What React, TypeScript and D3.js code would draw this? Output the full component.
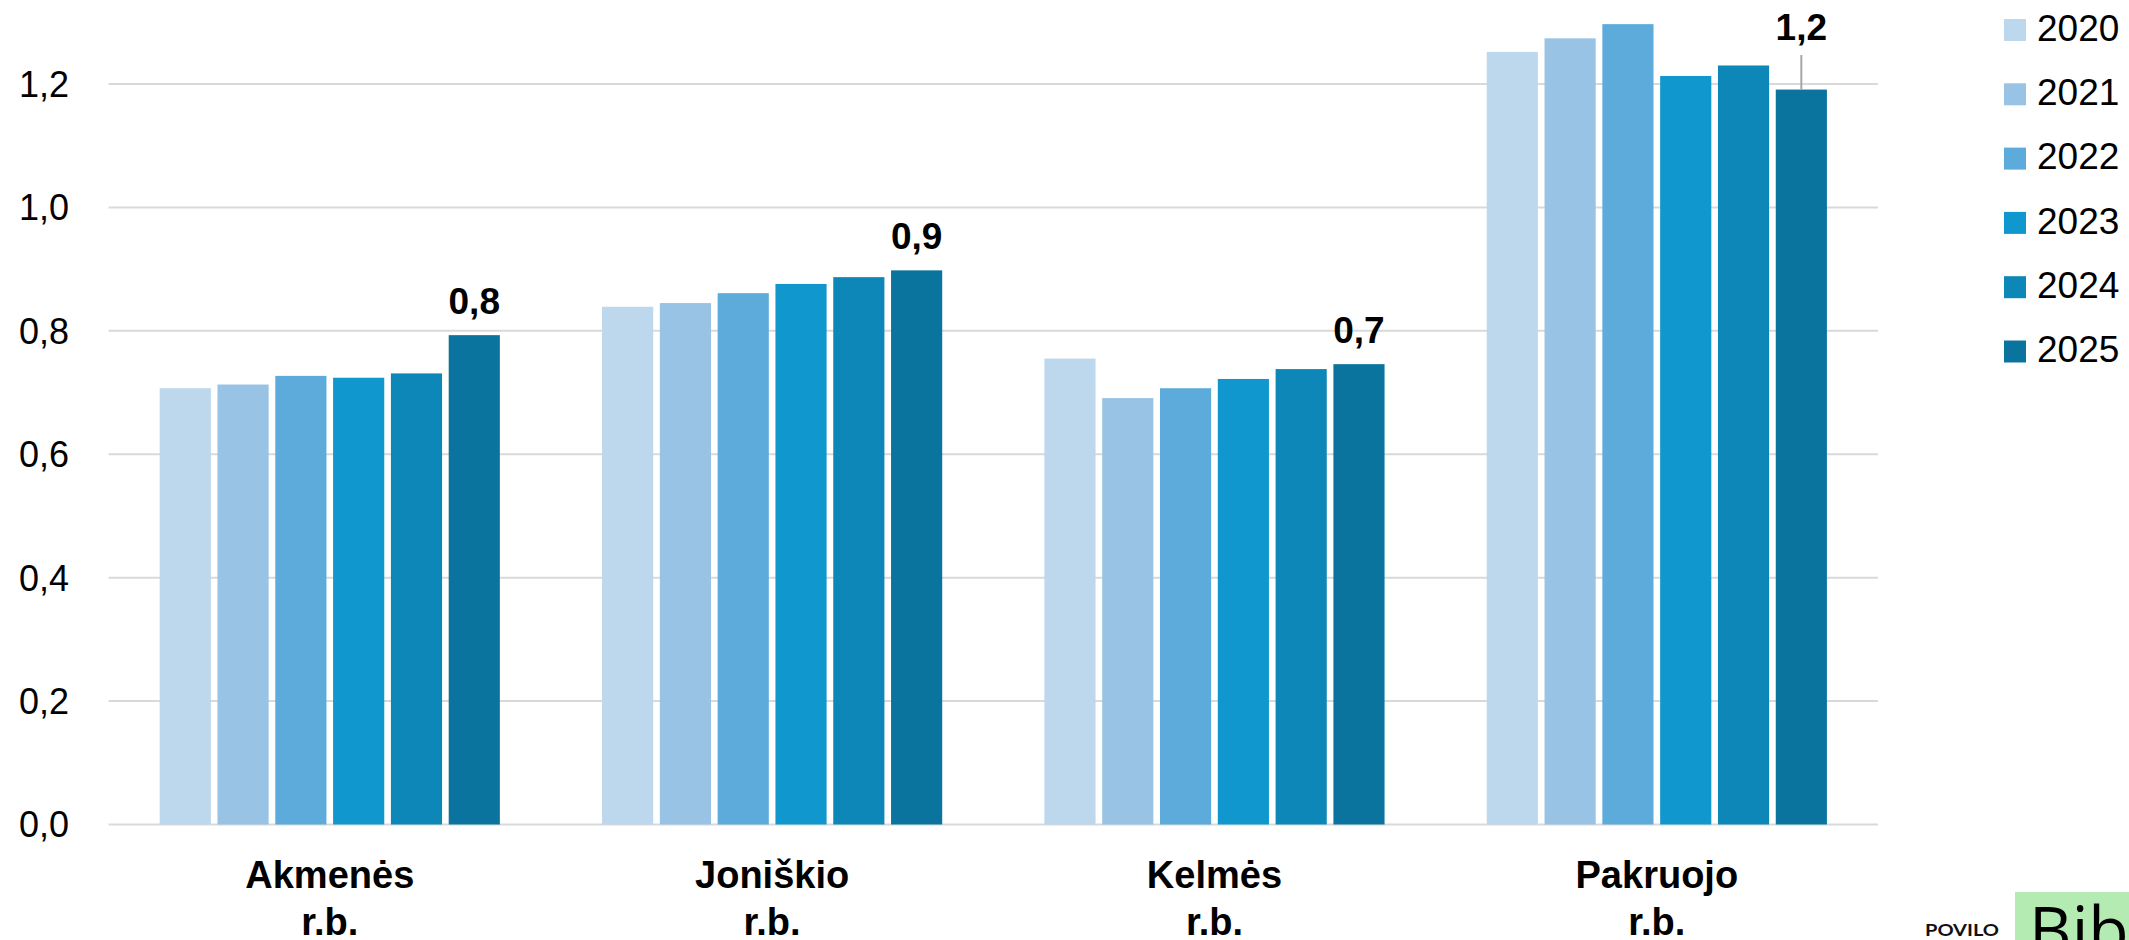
import React from "react";
import * as d3 from "d3";

const categories = ["Akmenės r.b.", "Joniškio r.b.", "Kelmės r.b.", "Pakruojo r.b."];
const years = ["2020", "2021", "2022", "2023", "2024", "2025"];
const values2020 = [0.707, 0.839, 0.755, 1.252];
const values2021 = [0.713, 0.845, 0.691, 1.274];
const values2022 = [0.727, 0.861, 0.707, 1.297];
const values2023 = [0.724, 0.876, 0.722, 1.213];
const values2024 = [0.731, 0.887, 0.738, 1.230];
const values2025 = [0.793, 0.898, 0.746, 1.191];
const series = [values2020, values2021, values2022, values2023, values2024, values2025];
const colors = ["#BDD7ED", "#98C3E4", "#5CABDA", "#1097CD", "#0D86B8", "#0A749E"];
const yTicks = [0, 0.2, 0.4, 0.6, 0.8, 1.0, 1.2];

const W = 2129;
const H = 940;

const fmt = (v: number) => d3.format(".1f")(v).replace(".", ",");

export default function App() {
  const x0 = d3.scaleBand<string>().domain(categories).range([108.6, 1878]).paddingInner(0.231).paddingOuter(0.1155);
  const x1 = d3.scaleBand<string>().domain(years).range([0, x0.bandwidth()]).paddingInner(0.115).paddingOuter(0);
  const y = d3.scaleLinear().domain([0, 1.2]).range([824.5, 84]);
  const [gx0, gx1] = x0.range();

  const sans = "'Liberation Sans', Arial, sans-serif";

  return (
    <div style={{ position: "absolute", left: 0, top: 0 }}>
      <svg width={W} height={H} style={{ display: "block", background: "#fff" }}>
        <rect x={0} y={0} width={W} height={H} fill="#fff" />
        {yTicks.map((t) => (
          <g key={t}>
            <line x1={gx0} x2={gx1} y1={y(t)} y2={y(t)} stroke="#D9D9D9" strokeWidth={2} />
            <text x={69} y={y(t)} dy="0.36em" textAnchor="end" fontFamily={sans} fontSize={36} fill="#000">
              {fmt(t)}
            </text>
          </g>
        ))}
        {categories.map((c, ci) => (
          <g key={c} transform={`translate(${x0(c)},0)`}>
            {years.map((yr, si) => (
              <rect
                key={yr}
                x={x1(yr)}
                y={y(series[si][ci])}
                width={x1.bandwidth()}
                height={y(0) - y(series[si][ci])}
                fill={colors[si]}
              />
            ))}
          </g>
        ))}
        {categories.map((c, ci) => {
          const v = values2025[ci];
          const cx = (x0(c) as number) + (x1("2025") as number) + x1.bandwidth() / 2;
          const top = y(v);
          const lifted = ci === 3;
          const by = lifted ? 40 : top - 21;
          return (
            <g key={"lab" + c}>
              {lifted && <line x1={cx} x2={cx} y1={55} y2={top} stroke="#A6A6A6" strokeWidth={2} />}
              <text x={cx} y={by} textAnchor="middle" fontFamily={sans} fontWeight="bold" fontSize={37} fill="#000">
                {fmt(v)}
              </text>
            </g>
          );
        })}
        {categories.map((c) => {
          const cx = (x0(c) as number) + x0.bandwidth() / 2;
          const parts = c.split(" ");
          return (
            <text key={"cat" + c} x={cx} textAnchor="middle" fontFamily={sans} fontWeight="bold" fontSize={38} fill="#000">
              <tspan x={cx} y={888}>{parts[0]}</tspan>
              <tspan x={cx} y={935}>{parts[1]}</tspan>
            </text>
          );
        })}
        {years.map((yr, i) => {
          const cy = 30 + i * 64.3;
          return (
            <g key={"leg" + yr}>
              <rect x={2004} y={cy - 11} width={22} height={22} fill={colors[i]} />
              <text x={2037} y={cy + 10.7} fontFamily={sans} fontSize={37} fill="#000">
                {yr}
              </text>
            </g>
          );
        })}
        <text x={1925} y={936} fontFamily="Lato, 'Noto Sans', sans-serif" fontWeight="bold" fontSize={17} textLength={74} lengthAdjust="spacingAndGlyphs" fill="#111">
          POVILO
        </text>
        <rect x={2015} y={892} width={W - 2015} height={H - 892} fill="#B3EBB3" />
        <text x={2029} y={954} fontFamily="'Open Sans', sans-serif" fontSize={66} fill="#000">
          Bibliotekos
        </text>
      </svg>
    </div>
  );
}
